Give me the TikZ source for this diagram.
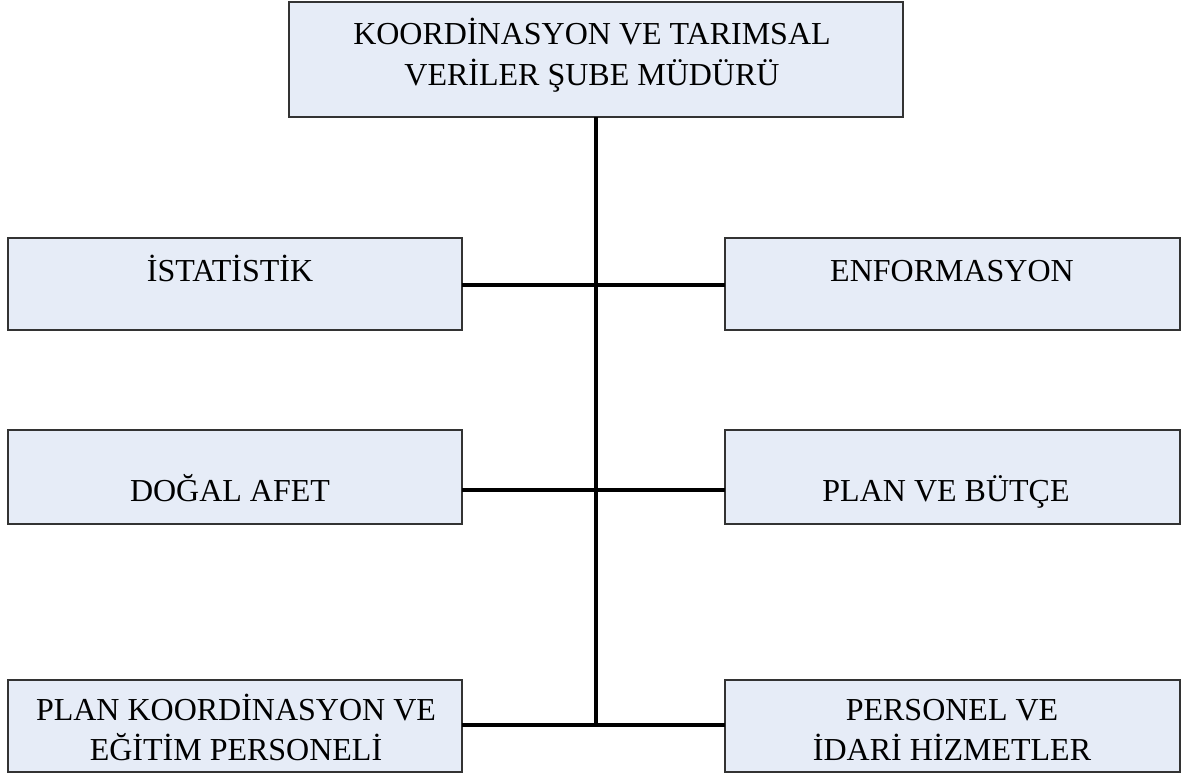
\documentclass[tikz,border=0pt]{standalone}
\usepackage{fontspec}
\setmainfont{Liberation Serif}
\definecolor{boxfill}{HTML}{E6ECF7}
\definecolor{boxline}{HTML}{333333}
\begin{document}
\begin{tikzpicture}[x=1pt,y=-1pt,
  unit/.style={draw=boxline,line width=1.9pt,fill=boxfill,inner sep=0pt,outer sep=0pt},
  lbl/.style={anchor=base,inner sep=0pt,font=\fontsize{32}{41}\selectfont},
  conn/.style={line width=3.2pt,black}]
\useasboundingbox (0,0) rectangle (1183,774);
% boxes
\node[unit,minimum width=614pt,minimum height=115pt] (top) at (596,59.5) {};
\node[unit,minimum width=454pt,minimum height=92pt] (l1) at (235,284) {};
\node[unit,minimum width=455pt,minimum height=92pt] (r1) at (952.5,284) {};
\node[unit,minimum width=454pt,minimum height=94pt] (l2) at (235,477) {};
\node[unit,minimum width=455pt,minimum height=94pt] (r2) at (952.5,477) {};
\node[unit,minimum width=454pt,minimum height=92pt] (l3) at (235,726) {};
\node[unit,minimum width=455pt,minimum height=92pt] (r3) at (952.5,726) {};
% texts
\node[lbl] (t0a) at (592,44) {KOORDİNASYON VE TARIMSAL};
\node[lbl] (t0b) at (592,85) {VERİLER ŞUBE MÜDÜRÜ};
\node[lbl] (t1) at (230,281) {İSTATİSTİK};
\node[lbl] (t2) at (952,281) {ENFORMASYON};
\node[lbl] (t3) at (230,501) {DOĞAL AFET};
\node[lbl] (t4) at (946,501) {PLAN VE BÜTÇE};
\node[lbl] (t5a) at (236,720) {PLAN KOORDİNASYON VE};
\node[lbl] (t5b) at (236,760) {EĞİTİM PERSONELİ};
\node[lbl] (t6a) at (952,720) {PERSONEL VE};
\node[lbl] (t6b) at (952,760) {İDARİ HİZMETLER};
% junctions
\coordinate (j1) at (596,285);
\coordinate (j2) at (596,490);
\coordinate (j3) at (596,725);
% connectors
\draw[conn] (top.south) -- (j3);
\draw[conn] (l1.east |- j1) -- (r1.west |- j1);
\draw[conn] (l2.east |- j2) -- (r2.west |- j2);
\draw[conn] (l3.east |- j3) -- (r3.west |- j3);
\end{tikzpicture}
\end{document}
